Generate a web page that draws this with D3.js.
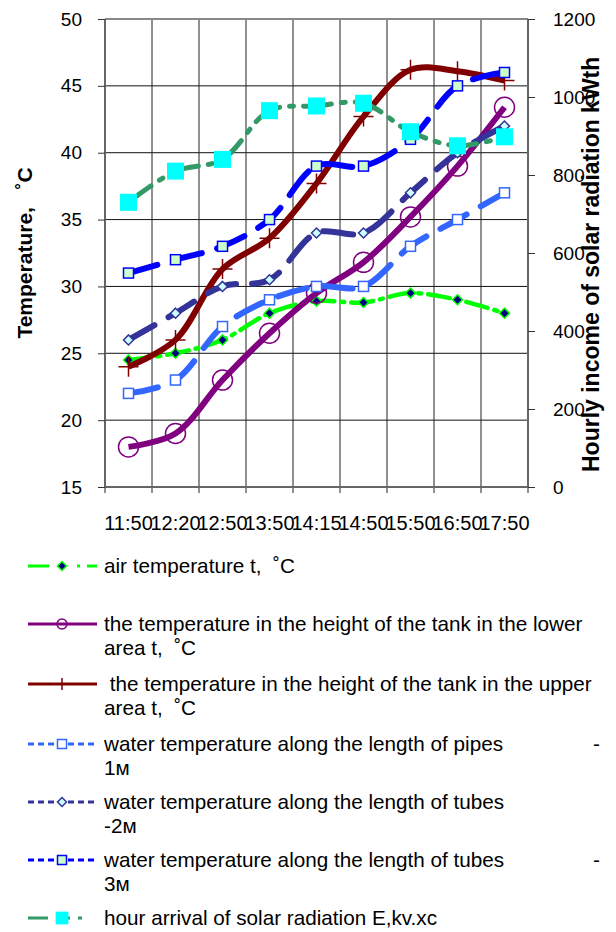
<!DOCTYPE html>
<html lang="en">
<head>
  <meta charset="UTF-8">
  <title>Temperature and solar radiation</title>
  <style>
    body { margin: 0; background: #fff; }
    svg text { font-family: Arial, 'Liberation Sans', sans-serif; fill: #000; white-space: pre; }
  </style>
</head>
<body>
  <svg id="svg" width="616" height="932"></svg>
  <script src="https://d3js.org/d3.v7.min.js"></script>
  <script>
    // categories (time of day)
    const times = ['11:50', '12:20', '12:50', '13:50', '14:15', '14:50', '15:50', '16:50', '17:50']

    // series values
    const airTemp   = [24.5, 25, 26, 28, 28.9, 28.8, 29.5, 29, 28]
    const tankLower = [18, 19, 23, 26.5, 29.5, 31.8, 35.2, 39, 43.4]
    const tankUpper = [24, 26, 31.3, 33.6, 37.7, 42.7, 46.2, 46.1, 45.4]
    const pipes1m   = [22, 23, 27, 29, 30, 30, 33, 35, 37]
    const tubes2m   = [26, 28, 30, 30.5, 34, 34, 37, 40, 42]
    const tubes3m   = [31, 32, 33, 35, 39, 39, 41, 45, 46]
    const solarRad  = [730, 810, 840, 965, 977, 984, 911, 875, 898]

    // axis ticks
    const leftTicks = [15, 20, 25, 30, 35, 40, 45, 50]
    const rightTicks = [0, 200, 400, 600, 800, 1000, 1200]

    const svg = d3.select('#svg')
    const plot = { left: 105, right: 528, top: 19, bottom: 487 }

    const x = d3.scaleBand().domain(times).range([plot.left, plot.right])
    const cx = d => x(d) + x.bandwidth() / 2
    const y = d3.scaleLinear().domain([15, 50]).range([plot.bottom, plot.top])
    const yR = d3.scaleLinear().domain([0, 1200]).range([plot.bottom, plot.top])

    // grid
    const grid = svg.append('g')
    grid.selectAll('.hg')
      .data(leftTicks)
      .join('line')
      .attr('x1', plot.left).attr('x2', plot.right)
      .attr('y1', d => y(d)).attr('y2', d => y(d))
      .attr('stroke', '#111').attr('stroke-width', 1)
    const bounds = times.map(t => x(t)).concat([plot.right])
    grid.selectAll('.vg')
      .data(bounds)
      .join('line')
      .attr('x1', d => d).attr('x2', d => d)
      .attr('y1', plot.top).attr('y2', plot.bottom + 6)
      .attr('stroke', '#222').attr('stroke-width', 1)
    // top border
    grid.append('line')
      .attr('x1', plot.left).attr('x2', plot.right)
      .attr('y1', plot.top).attr('y2', plot.top)
      .attr('stroke', '#888').attr('stroke-width', 2)

    // axes
    const leftAxis = svg.append('g')
      .attr('transform', `translate(${plot.left},0)`)
      .call(d3.axisLeft(y).tickValues(leftTicks).tickSize(7).tickPadding(16))
    const rightAxis = svg.append('g')
      .attr('transform', `translate(${plot.right},0)`)
      .call(d3.axisRight(yR).tickValues(rightTicks).tickSize(7).tickPadding(18).tickFormat(d3.format('d')))
    const bottomAxis = svg.append('g')
      .attr('transform', `translate(0,${plot.bottom})`)
      .call(d3.axisBottom(x).tickSize(0).tickPadding(29))

    ;[leftAxis, rightAxis, bottomAxis].forEach(a => {
      a.select('.domain').attr('stroke', '#666').attr('stroke-width', 2)
      a.selectAll('.tick line').attr('stroke', '#333')
      a.selectAll('.tick text').attr('font-size', 19).attr('font-family', null)
    })
    bottomAxis.selectAll('.tick text').attr('font-size', 20)
    bottomAxis.select('.domain').attr('d', `M${plot.left},0H${plot.right}`)
    leftAxis.select('.domain').attr('d', `M0,${plot.top}V${plot.bottom}`)
    rightAxis.select('.domain').attr('d', `M0,${plot.top}V${plot.bottom}`)

    // axis titles
    svg.append('text')
      .attr('transform', 'translate(32,253) rotate(-90)')
      .attr('text-anchor', 'middle')
      .attr('font-size', 21).attr('font-weight', 'bold')
      .text('Temperature,   ˚C')
    svg.append('text')
      .attr('transform', 'translate(599,472) rotate(-90)')
      .attr('text-anchor', 'start')
      .attr('font-size', 23).attr('font-weight', 'bold')
      .text('Hourly income of solar radiation kWth')

    // series definitions
    const series = [
      { values: airTemp, scale: y, color: '#00ff00', width: 4.5, dash: '22,7,3,7', marker: 'diamond', fill: '#000080', mstroke: '#00ff00', size: 5,
        legend: ['air temperature t,  ˚C'], ly: 566, ldash: '21,28,3,7,14' },
      { values: tankLower, scale: y, color: '#800080', width: 6, dash: null, marker: 'circle', fill: 'none', mstroke: '#800080', size: 10,
        legend: ['the temperature in the height of the tank in the lower', 'area t,  ˚C'], ly: 624, ldash: null },
      { values: tankUpper, scale: y, color: '#800000', width: 6, dash: null, marker: 'plus', fill: 'none', mstroke: '#800000', size: 10,
        legend: [' the temperature in the height of the tank in the upper', 'area t,  ˚C'], ly: 684, ldash: null },
      { values: pipes1m, scale: y, color: '#3366ff', width: 6, dash: '30,16', marker: 'square', fill: '#fff', mstroke: '#3366ff', size: 5,
        legend: ['water temperature along the length of pipes', '1м'], ly: 744, ldash: '6,4', tail: '-' },
      { values: tubes2m, scale: y, color: '#333399', width: 6, dash: '30,16', marker: 'diamond', fill: '#ccffff', mstroke: '#333399', size: 5,
        legend: ['water temperature along the length of tubes', '-2м'], ly: 802, ldash: '6,4' },
      { values: tubes3m, scale: y, color: '#0000ff', width: 6, dash: '30,16', marker: 'square', fill: '#ccffcc', mstroke: '#0000ff', size: 5,
        legend: ['water temperature along the length of tubes', '3м'], ly: 860, ldash: '6,4', tail: '-' },
      { values: solarRad, scale: yR, color: '#339966', width: 5, dash: '28,10,4,10', marker: 'bigsquare', fill: '#00ffff', mstroke: 'none', size: 8.5,
        legend: ['hour arrival of solar radiation E,kv.xc'], ly: 918, ldash: '20,10,12,8,4' }
    ]

    const line = (scale) => d3.line()
      .x((d, i) => cx(times[i]))
      .y(d => scale(d))
      .curve(d3.curveCatmullRom.alpha(0.5))

    function drawMarker(g, s, px, py, k) {
      const r = s.size * k
      if (s.marker === 'circle') {
        g.append('circle').attr('cx', px).attr('cy', py).attr('r', r)
          .attr('fill', s.fill).attr('stroke', s.mstroke).attr('stroke-width', 1.5)
      } else if (s.marker === 'plus') {
        g.append('path').attr('d', `M${px - r},${py}H${px + r}M${px},${py - r}V${py + r}`)
          .attr('stroke', s.mstroke).attr('stroke-width', 1.5)
      } else if (s.marker === 'diamond') {
        g.append('path').attr('d', `M${px},${py - r}L${px + r},${py}L${px},${py + r}L${px - r},${py}Z`)
          .attr('fill', s.fill).attr('stroke', s.mstroke).attr('stroke-width', 1.5)
      } else {
        g.append('rect').attr('x', px - r).attr('y', py - r).attr('width', 2 * r).attr('height', 2 * r)
          .attr('fill', s.fill).attr('stroke', s.mstroke).attr('stroke-width', 1.5)
      }
    }

    series.forEach(s => {
      const g = svg.append('g')
      g.append('path')
        .datum(s.values)
        .attr('d', line(s.scale))
        .attr('fill', 'none')
        .attr('stroke', s.color)
        .attr('stroke-width', s.width)
        .attr('stroke-linecap', s.dash ? 'round' : 'butt')
        .attr('stroke-dasharray', s.dash)
      s.values.forEach((v, i) => drawMarker(g, s, cx(times[i]), s.scale(v), 1))
    })

    // legend
    const legend = svg.append('g')
    series.forEach(s => {
      const item = legend.append('g')
      item.append('line')
        .attr('x1', 28).attr('x2', 97)
        .attr('y1', s.ly).attr('y2', s.ly)
        .attr('stroke', s.color).attr('stroke-width', 3)
        .attr('stroke-dasharray', s.ldash)
      drawMarker(item, s, 62, s.ly, s.marker === 'circle' ? 0.5 : s.marker === 'bigsquare' ? 0.75 : s.marker === 'plus' ? 0.6 : 0.9)
      s.legend.forEach((t, j) => {
        item.append('text')
          .attr('x', 104).attr('y', s.ly + j * 24)
          .attr('dy', '0.35em')
          .attr('font-size', 20.7)
          .text(t)
      })
      if (s.tail) {
        item.append('text')
          .attr('x', 593).attr('y', s.ly)
          .attr('dy', '0.35em')
          .attr('font-size', 20.7)
          .text(s.tail)
      }
    })
  </script>
</body>
</html>
